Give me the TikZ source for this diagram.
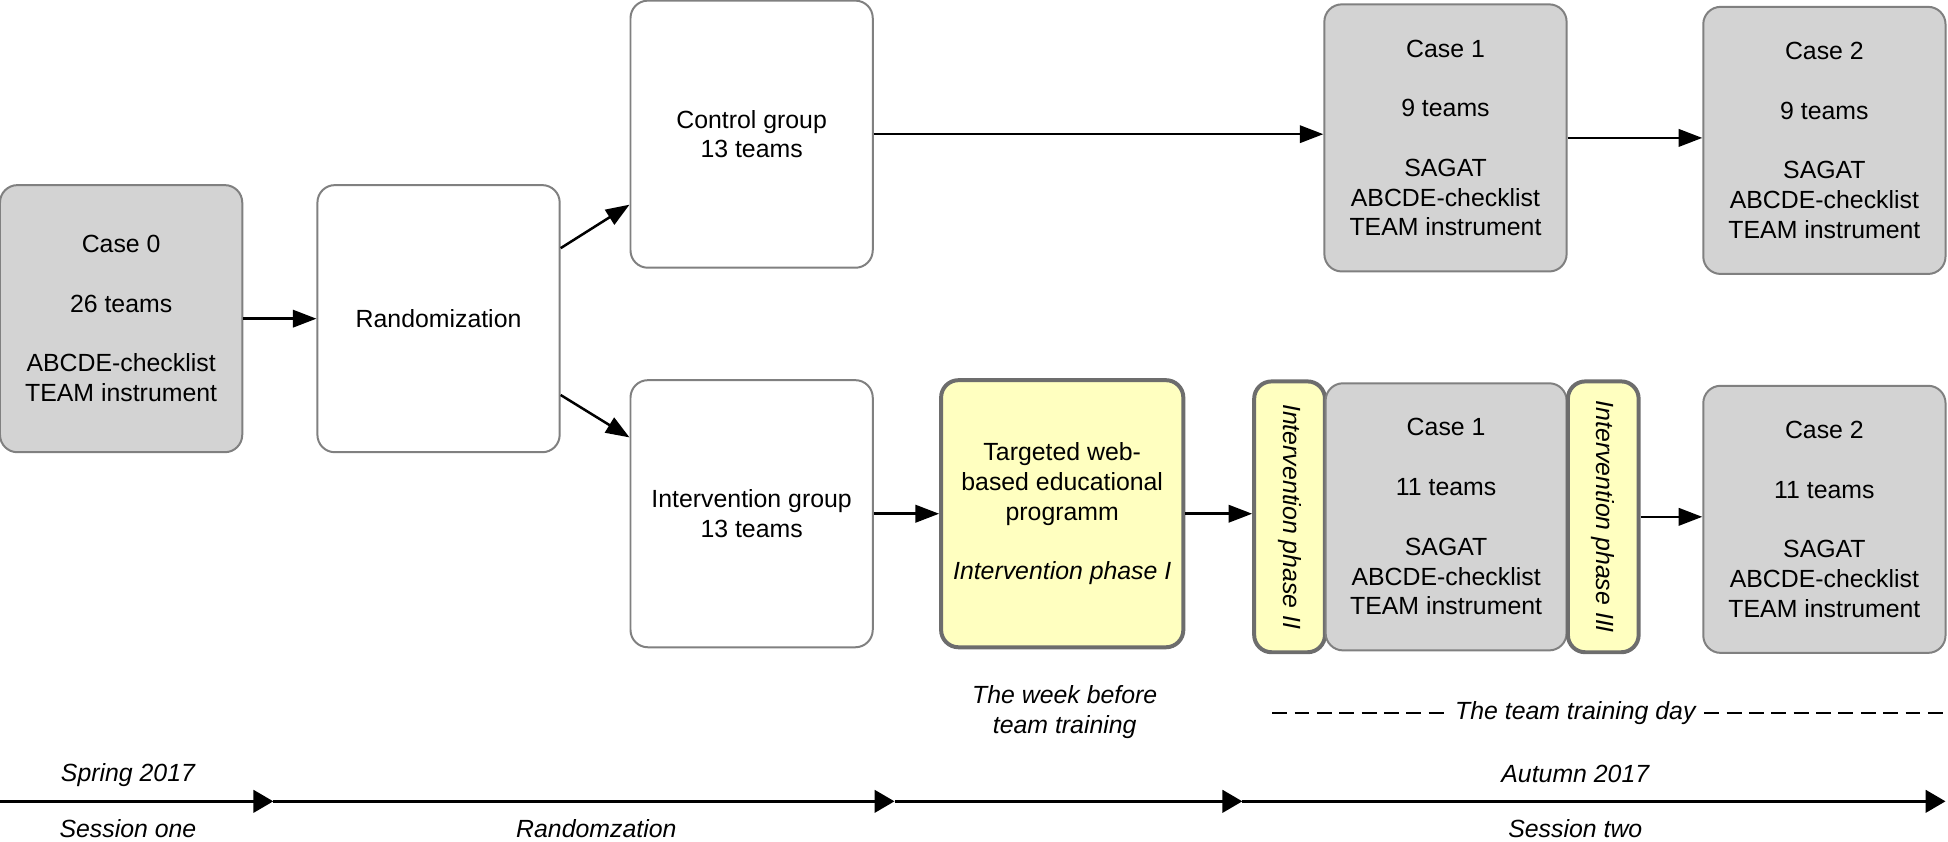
\documentclass[tikz,border=0pt]{standalone}
\usepackage{fontspec}
\setmainfont{Liberation Sans}
\usetikzlibrary{positioning,arrows.meta}
\definecolor{boxgrey}{RGB}{211,211,211}
\definecolor{boxline}{RGB}{128,128,128}
\definecolor{phaseyellow}{RGB}{255,255,192}

\begin{document}
\begin{tikzpicture}[x=0.5pt,y=-0.5pt,every node/.style={align=center,font=\fontsize{10}{12}\selectfont},
roundbox/.style={draw=boxline,line width=0.8pt,rounded corners=7pt,minimum width=97.5pt,minimum height=107.5pt,inner sep=0pt},
casebox/.style={roundbox,fill=boxgrey},
plainbox/.style={roundbox,fill=white},
phasebox/.style={roundbox,fill=phaseyellow,line width=1.6pt,draw=boxline!85!black},
strip/.style={phasebox,rotate=-90,minimum width=109pt,minimum height=28.5pt,font=\fontsize{10}{12}\selectfont\itshape},
flow/.style={-{Triangle[length=9.5pt,width=7pt]},line width=1pt},
timeline/.style={-{Triangle[length=8pt,width=9pt]},line width=1.2pt},
note/.style={font=\fontsize{10}{12}\selectfont\itshape}]
\useasboundingbox (0,0) rectangle (1568,677);
\node[casebox] (case0) at (97.5,256.5) {Case 0\\[12pt]26 teams\\[12pt]ABCDE-checklist\\TEAM instrument};
\node[plainbox] (rand) at (353,256.5) {Randomization};
\node[plainbox] (ctrl) at (605,108) {Control group\\13 teams};
\node[plainbox] (intv) at (605,413.5) {Intervention group\\13 teams};
\node[phasebox] (web) at (855,413.5) {Targeted web-\\based educational\\programm\\[12pt]\textit{Intervention phase I}};
\node[strip] (ph2) at (1038,416) {Intervention phase II};
\node[casebox,minimum width=97pt] (case1i) at (1164,416) {Case 1\\[12pt]11 teams\\[12pt]SAGAT\\ABCDE-checklist\\TEAM instrument};
\node[strip] (ph3) at (1290.5,416) {Intervention phase III};
\node[casebox] (case2i) at (1468.5,418) {Case 2\\[12pt]11 teams\\[12pt]SAGAT\\ABCDE-checklist\\TEAM instrument};
\node[casebox] (case1c) at (1163.5,111) {Case 1\\[12pt]9 teams\\[12pt]SAGAT\\ABCDE-checklist\\TEAM instrument};
\node[casebox] (case2c) at (1468.5,113) {Case 2\\[12pt]9 teams\\[12pt]SAGAT\\ABCDE-checklist\\TEAM instrument};
\draw[flow] (case0) -- (rand);
\draw[flow] (rand.30) -- (ctrl.210);
\draw[flow] (rand.-32) -- (intv.148);
\draw[flow] (ctrl.east) -- (ctrl.east -| case1c.west);
\draw[flow] (case1c.east) -- (case1c.east -| case2c.west);
\draw[flow] (intv) -- (web);
\draw[flow] (web.east) -- (web.east -| ph2.south);
\draw[flow] (ph3.north) -- (ph3.north -| case2i.west);
\node[note] (week) at (857,573) {The week before\\team training};
\node[note] (day) at (1268,574) {The team training day};
\coordinate (d0) at (1024,574);
\coordinate (d1) at (1566,574);
\draw[line width=1pt,dash pattern=on 6pt off 3pt] (d0) -- (day) (day) -- (d1);
\coordinate (t0) at (0,645);
\coordinate (t1) at (220,645);
\coordinate (t2) at (720,645);
\coordinate (t3) at (1000,645);
\coordinate (t4) at (1566,645);
\draw[timeline] (t0) -- (t1);
\draw[timeline] (t1) -- (t2);
\draw[timeline] (t2) -- (t3);
\draw[timeline] (t3) -- (t4);
\node[note] (spring) at (103,624) {Spring 2017};
\node[note] (sess1) at (103,667) {Session one};
\node[note] (randlbl) at (480,667) {Randomzation};
\node[note] (autumn) at (1268,623) {Autumn 2017};
\node[note] (sess2) at (1268,667) {Session two};
\end{tikzpicture}
\end{document}
